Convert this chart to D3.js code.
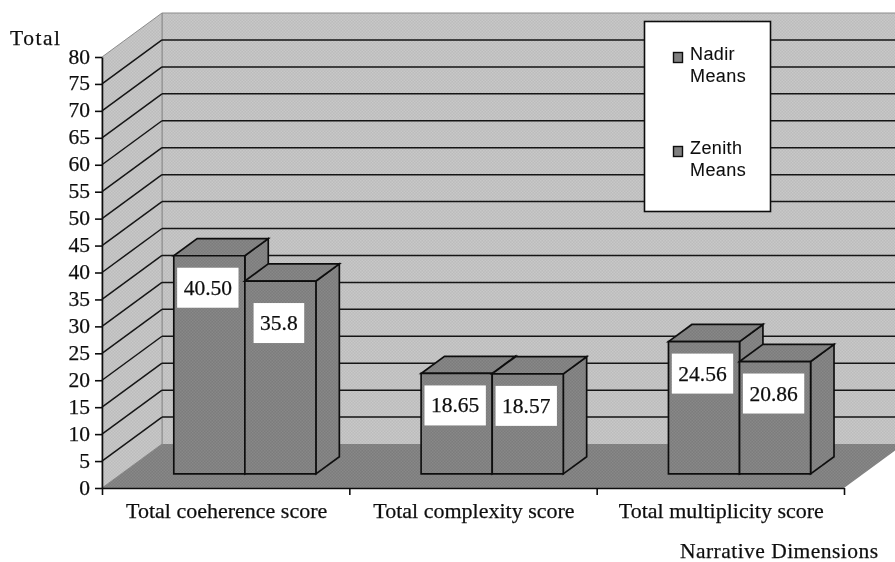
<!DOCTYPE html>
<html>
<head>
<meta charset="utf-8">
<title>Narrative Dimensions</title>
<script src="https://d3js.org/d3.v7.min.js"></script>
<style>
  html, body { margin: 0; padding: 0; background: #fff; }
  svg { display: block; }
  text { font-family: "Liberation Serif", serif; font-size: 21.5px; fill: #111; stroke: #111; stroke-width: 0.25; }
  .cat { font-size: 22px; }
  .legend text { font-family: "Liberation Sans", sans-serif; font-size: 18px; letter-spacing: 0.4px; stroke-width: 0.1; }
  .axis path, .axis line { stroke: #111; stroke-width: 1.6; }
  .grid { stroke: #151515; stroke-width: 1.5; }
  .bar { stroke: #111; stroke-width: 1.7; stroke-linejoin: miter; }
</style>
</head>
<body>
<svg id="chart" width="895" height="562"></svg>
<script>
var categories = ["Total coeherence score", "Total complexity score", "Total multiplicity score"];
var seriesNames = ["Nadir Means", "Zenith Means"];
var nadirMeans = [40.50, 18.65, 24.56];
var zenithMeans = [35.8, 18.57, 20.86];
var nadirLabels = ["40.50", "18.65", "24.56"];
var zenithLabels = ["35.8", "18.57", "20.86"];
var yTicks = d3.range(0, 85, 5);

var svg = d3.select("#chart"),
    width = 895, height = 562,
    plotLeft = 102, plotRight = 844, plotTop = 57, plotBottom = 488,
    depthX = 60, depthY = 44,   // how far the back wall sits from the axes
    zFront = 0.32, zBack = 0.71;

var defs = svg.append("defs");
function dither(id, a, b) {
  var p = defs.append("pattern").attr("id", id)
      .attr("width", 3).attr("height", 3).attr("patternUnits", "userSpaceOnUse");
  p.append("rect").attr("width", 3).attr("height", 3).attr("fill", a);
  p.append("rect").attr("width", 1.5).attr("height", 1.5).attr("fill", b);
  p.append("rect").attr("x", 1.5).attr("y", 1.5).attr("width", 1.5).attr("height", 1.5).attr("fill", b);
}
dither("wall", "#bcbcbc", "#c8c8c8");
dither("dark", "#7c7c7c", "#888888");
defs.append("filter").attr("id", "soft")
    .attr("x", 0).attr("y", 0).attr("width", 1).attr("height", 1)
    .attr("filterUnits", "objectBoundingBox")
  .append("feGaussianBlur").attr("stdDeviation", 0.45);

var g = svg.append("g").attr("filter", "url(#soft)");
g.append("rect").attr("width", width).attr("height", height).attr("fill", "#fff");

var x = d3.scaleBand().domain(categories).range([plotLeft, plotRight]);
var x1 = d3.scaleBand().domain(seriesNames).range([0, x.bandwidth()]).paddingInner(0).paddingOuter(0.74);
var y = d3.scaleLinear().domain([0, 80]).range([plotBottom, plotTop]);
var xEdge = d3.scaleLinear().domain([0, categories.length]).range([plotLeft, plotRight]);

// project a point of the chart box: px along x, value up, z into the depth
function pt(px, v, z) { return [px + z * depthX, y(v) - z * depthY]; }
var line = d3.line();

// walls and floor
g.append("path").attr("fill", "url(#wall)").attr("stroke", "#8c8c8c")
    .attr("d", line([pt(plotLeft, 0, 1), pt(plotLeft, 80, 1), pt(plotRight + 60, 80, 1), pt(plotRight + 60, 0, 1)]));
g.append("path").attr("fill", "url(#wall)").attr("stroke", "#8c8c8c")
    .attr("d", line([pt(plotLeft, 0, 0), pt(plotLeft, 80, 0), pt(plotLeft, 80, 1), pt(plotLeft, 0, 1)]) + "Z");
g.append("path").attr("fill", "url(#dark)")
    .attr("d", line([pt(plotLeft, 0, 0), pt(plotRight, 0, 0), pt(plotRight, 0, 1), pt(plotRight + 60, 0, 1), pt(plotLeft, 0, 1)]) + "Z");

// gridlines
var gridVals = yTicks.filter(function(d) { return d > 0 && d < 80; });
g.selectAll(".grid-side").data(gridVals).enter().append("path")
    .attr("class", "grid").attr("fill", "none")
    .attr("d", function(d) { return line([pt(plotLeft, d, 0), pt(plotLeft, d, 1)]); });
g.selectAll(".grid-back").data(gridVals).enter().append("path")
    .attr("class", "grid").attr("fill", "none")
    .attr("d", function(d) { return line([pt(plotLeft, d, 1), pt(plotRight + 60, d, 1)]); });

// bars
var rows = [];
categories.forEach(function(c, i) {
  rows.push({cat: c, s: seriesNames[0], v: nadirMeans[i], label: nadirLabels[i], nudge: 0});
  // the 35.8 label sits lower than the others in the original
  rows.push({cat: c, s: seriesNames[1], v: zenithMeans[i], label: zenithLabels[i], nudge: i === 0 ? 10 : 0});
});

var bars = g.selectAll(".barg").data(rows).enter().append("g").attr("class", "barg");
bars.each(function(d) {
  var b = d3.select(this),
      x0 = x(d.cat) + x1(d.s),
      x2 = x0 + x1.bandwidth();
  b.append("path").attr("class", "bar").attr("fill", "url(#dark)")
      .attr("d", line([pt(x2, 0, zFront), pt(x2, 0, zBack), pt(x2, d.v, zBack), pt(x2, d.v, zFront)]) + "Z");
  b.append("path").attr("class", "bar").attr("fill", "url(#dark)")
      .attr("d", line([pt(x0, d.v, zFront), pt(x0, d.v, zBack), pt(x2, d.v, zBack), pt(x2, d.v, zFront)]) + "Z");
  b.append("path").attr("class", "bar").attr("fill", "url(#dark)")
      .attr("d", line([pt(x0, 0, zFront), pt(x0, d.v, zFront), pt(x2, d.v, zFront), pt(x2, 0, zFront)]) + "Z");
});

// data labels on white boxes
bars.each(function(d) {
  var b = d3.select(this),
      cx = x(d.cat) + x1(d.s) + x1.bandwidth() / 2 + zFront * depthX - 1.5,
      cy = pt(0, d.v, zFront)[1] + 32 + d.nudge;
  var box = b.append("rect").attr("fill", "#fff");
  var t = b.append("text").attr("x", cx).attr("y", cy + 7).attr("text-anchor", "middle").text(d.label);
  var w = t.node().getComputedTextLength() + 13;
  box.attr("x", cx - w / 2).attr("y", cy - 20).attr("width", w).attr("height", 40);
});

// axes
var yAxis = g.append("g").attr("class", "axis").attr("transform", "translate(" + plotLeft + ",0)")
    .call(d3.axisLeft(y).tickValues(yTicks).tickSize(7).tickPadding(5).tickSizeOuter(0));
yAxis.selectAll("text").attr("dy", "0.28em").attr("fill", "#111");
yAxis.attr("font-family", null).attr("font-size", null);

var xAxis = g.append("g").attr("class", "axis").attr("transform", "translate(0," + plotBottom + ")")
    .call(d3.axisBottom(xEdge).tickValues(d3.range(0, categories.length + 1)).tickFormat("").tickSize(7).tickSizeOuter(0));

g.selectAll(".cat").data(categories).enter().append("text")
    .attr("class", "cat")
    .attr("x", function(d) { return x(d) + x.bandwidth() / 2 + 1; })
    .attr("y", 518).attr("text-anchor", "middle").text(function(d) { return d; });

g.append("text").attr("x", 10).attr("y", 45).attr("textLength", 50).text("Total");
g.append("text").attr("x", 878).attr("y", 558).attr("text-anchor", "end").attr("textLength", 198).text("Narrative Dimensions");

// legend
var legend = g.append("g").attr("class", "legend");
legend.append("rect").attr("x", 644.5).attr("y", 21.5).attr("width", 126).attr("height", 190)
    .attr("fill", "#fff").attr("stroke", "#111").attr("stroke-width", 1.6);
seriesNames.forEach(function(name, i) {
  var ly = 60 + i * 94,
      parts = name.split(" ");
  legend.append("rect").attr("x", 673.5).attr("y", ly - 7.5).attr("width", 9).attr("height", 10)
      .attr("fill", "#808080").attr("stroke", "#111").attr("stroke-width", 1.4);
  parts.forEach(function(p, j) {
    legend.append("text").attr("x", 690).attr("y", ly + j * 22).text(p);
  });
});
</script>
</body>
</html>
